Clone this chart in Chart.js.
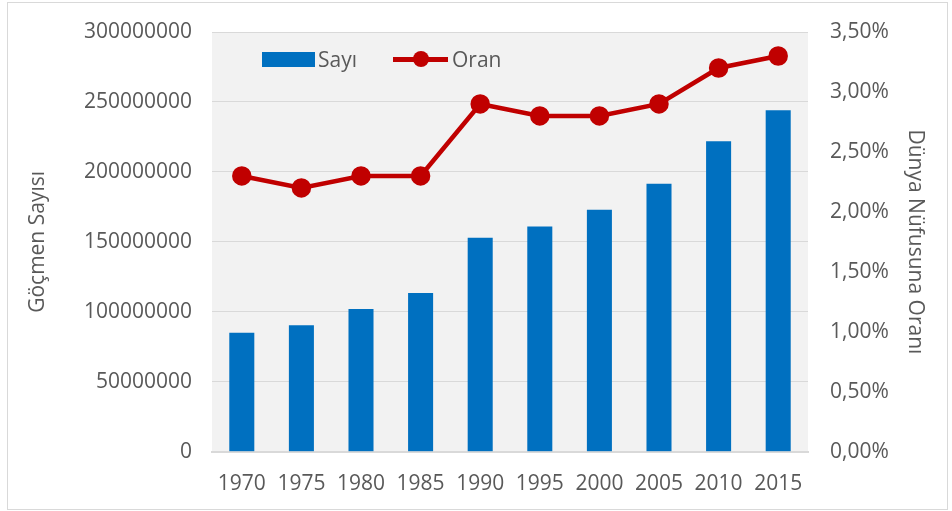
<!DOCTYPE html>
<html>
<head>
<meta charset="utf-8">
<script src="https://cdn.jsdelivr.net/npm/chart.js@4"></script>
<style>
  html, body { margin: 0; padding: 0; background: #fff; }
  #wrap { position: relative; width: 941px; height: 508px; margin: 2px 0 0 7px; border: 1px solid #d9d9d9; box-sizing: border-box; }
  #legend { position: absolute; left: 254px; top: 42px; font-family: "Open Sans", sans-serif; font-size: 21px; color: #595959; display: flex; align-items: center; }
  .item { display: flex; align-items: center; margin-right: 36px; }
  .box { width: 53px; height: 15px; background: #0070c0; margin-right: 3px; }
  .ln { position: relative; width: 55px; height: 5px; background: #c00000; margin-right: 4px; }
  .ln::after { content: ""; position: absolute; left: 20px; top: -6px; width: 16px; height: 16px; border-radius: 50%; background: #c00000; }
</style>
</head>
<body>
<div id="wrap">
  <canvas id="chart"></canvas>
  <div id="legend">
    <div class="item"><span class="box"></span><span>Sayı</span></div>
    <div class="item"><span class="ln"></span><span>Oran</span></div>
  </div>
</div>
<script>
// values
const years = ['1970', '1975', '1980', '1985', '1990', '1995', '2000', '2005', '2010', '2015'];
const sayi = [85000000, 90500000, 102000000, 113500000, 153000000, 161000000, 173000000, 191500000, 222000000, 244000000];
const oran = [2.3, 2.2, 2.3, 2.3, 2.9, 2.8, 2.8, 2.9, 3.2, 3.3];

Chart.defaults.font.family = '"Open Sans", sans-serif';
Chart.defaults.font.size = 21;
Chart.defaults.color = '#595959';

// gray plot area behind the bars
const plotBg = {
  id: 'plotBg',
  beforeDraw(chart) {
    const a = chart.chartArea, ctx = chart.ctx;
    ctx.save();
    ctx.fillStyle = '#f2f2f2';
    ctx.fillRect(a.left, a.top, a.right - a.left, a.bottom - a.top);
    ctx.restore();
  }
};

new Chart(document.getElementById('chart'), {
  data: {
    labels: years,
    datasets: [
      {
        type: 'line',
        label: 'Oran',
        data: oran,
        yAxisID: 'y1',
        borderColor: '#c00000',
        backgroundColor: '#c00000',
        borderWidth: 4.5,
        pointRadius: 7.5,
        pointBackgroundColor: '#c00000',
        pointBorderColor: '#c00000',
        order: 0
      },
      {
        type: 'bar',
        label: 'Sayı',
        data: sayi,
        yAxisID: 'y',
        backgroundColor: '#0070c0',
        barPercentage: 0.84,
        categoryPercentage: 0.5,
        order: 1
      }
    ]
  },
  options: {
    responsive: true,
    maintainAspectRatio: false,
    animation: false,
    layout: { padding: { left: 13, right: 0, top: 29, bottom: 0 } },
    plugins: { legend: { display: false }, tooltip: { enabled: false } },
    scales: {
      x: {
        grid: { display: false },
        border: { color: '#d9d9d9', width: 2 },
        ticks: { padding: 12 }
      },
      y: {
        position: 'left',
        min: 0, max: 300000000,
        // gap made with an invisible tick mark so the top padding stays small
        ticks: { stepSize: 50000000, padding: 2, callback: v => String(v) },
        grid: { color: '#d9d9d9', drawTicks: true, tickLength: 18, tickColor: 'rgba(0,0,0,0)' },
        border: { display: false },
        title: { display: true, text: 'Göçmen Sayısı', padding: { bottom: 14 } },
        afterFit(scale) { scale.width = 191; }
      },
      y1: {
        position: 'right',
        min: 0, max: 3.5,
        ticks: { stepSize: 0.5, padding: 2, callback: v => v.toFixed(2).replace('.', ',') + '%' },
        grid: { color: 'rgba(0,0,0,0)', drawTicks: true, tickLength: 20, tickColor: 'rgba(0,0,0,0)' },
        border: { display: false },
        title: { display: true, text: 'Dünya Nüfusuna Oranı', padding: { top: 19, bottom: 0 } },
        afterFit(scale) { scale.width = 139; }
      }
    }
  },
  plugins: [plotBg]
});
</script>
</body>
</html>
